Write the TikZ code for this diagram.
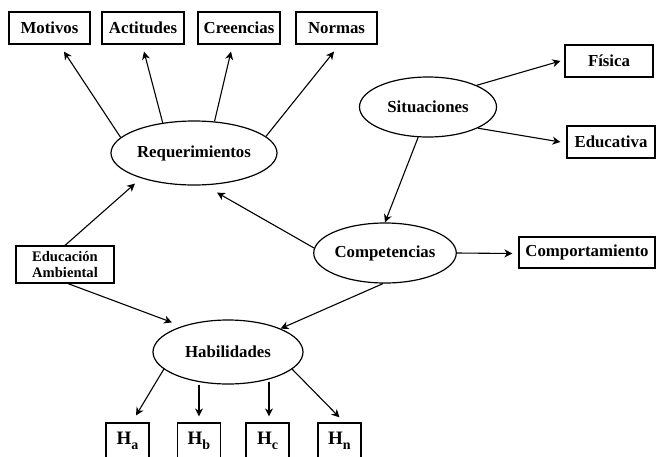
\documentclass[tikz,border=0pt]{standalone}
\usepackage{fontspec}
\setmainfont{Liberation Serif}
\usetikzlibrary{arrows.meta,shapes.geometric}
\newcommand{\hsub}[1]{\raisebox{-4.5pt}{\fontsize{14}{16}\selectfont #1}}
\begin{document}
\begin{tikzpicture}[x=1pt,y=-1pt,
  every node/.style={font=\fontsize{16.8}{19}\selectfont\bfseries, inner sep=0pt},
  box/.style={draw, line width=1.2pt, rectangle, minimum height=32pt},
  oval/.style={draw, line width=1.2pt, ellipse},
  arr/.style={line width=1.1pt, -{Stealth[length=8pt,width=8pt,inset=2.5pt]}},
  hbox/.style={box, minimum width=43pt, minimum height=36pt, font=\fontsize{19}{22}\selectfont\bfseries}]
\useasboundingbox (0,0) rectangle (657,456);

% top row of requirement boxes
\node[box, minimum width=81pt] (mot) at (49.5,28) {Motivos};
\node[box, minimum width=82pt] (act) at (143,28) {Actitudes};
\node[box, minimum width=82pt] (cre) at (239,28) {Creencias};
\node[box, minimum width=81pt] (nor) at (336.5,28) {Normas};

% ellipses
\node[oval, minimum width=166pt, minimum height=64pt] (req) at (194,153) {Requerimientos};
\node[oval, minimum width=137pt, minimum height=60pt] (sit) at (428,107) {Situaciones};
\node[oval, minimum width=136pt, minimum height=60pt] (com) at (385,253) {Competencias};
\node[oval, minimum width=150pt, minimum height=64pt] (hab) at (228,352) {Habilidades};

% right-hand boxes
\node[box, minimum width=88pt] (fis) at (609,61) {Física};
\node[box, minimum width=88pt] (edu) at (611,142) {Educativa};
\node[box, minimum width=136pt, minimum height=31pt] (cpt) at (587,252.5) {Comportamiento};

% left box
\node[box, minimum width=98pt, minimum height=37pt, align=center,
      font=\fontsize{14.6}{16.5}\selectfont\bfseries] (ea) at (65,264.5) {Educación\\Ambiental};

% bottom boxes
\node[hbox] (ha) at (127.5,441) {H\hsub{a}};
\node[hbox] (hb) at (199,441) {H\hsub{b}};
\node[hbox] (hc) at (267.5,441) {H\hsub{c}};
\node[hbox] (hn) at (339.5,441) {H\hsub{n}};

% connectors from Requerimientos
\draw[arr] (req.168) -- ([xshift=14.5pt,yshift=-7pt]mot.south);
\draw[arr] (req.136) -- ([xshift=1pt,yshift=-7pt]act.south);
\draw[arr] (req.57) -- ([xshift=-8pt,yshift=-7pt]cre.south);
\draw[arr] (req.13) -- ([xshift=-2.5pt,yshift=-7pt]nor.south);

% connectors from Situaciones
\draw[arr] (sit.24) -- ([xshift=-4pt]fis.west);
\draw[arr] (sit.-23) -- ([xshift=-6pt]edu.west);
\draw[arr] (sit.-108) -- (com.north);

% connectors from Competencias
\draw[arr] (com.east) -- ([xshift=-6pt,yshift=-1pt]cpt.west);
\draw[arr] (com.176) -- ([xshift=23pt,yshift=-7pt]req.south);
\draw[arr] ([xshift=-2pt]com.south) -- (hab.24);

% connectors from Educación Ambiental
\draw[arr] (ea.north) -- ([xshift=-59pt,yshift=2pt]req.south);
\draw[arr] ([xshift=3pt]ea.south) -- ([xshift=-56pt,yshift=-3pt]hab.north);

% connectors from Habilidades
\draw[arr] (hab.195) -- ([xshift=8.5pt,yshift=7pt]ha.north);
\draw[arr] ([xshift=-29pt]hab.south) -- ([yshift=6pt]hb.north);
\draw[arr] ([xshift=41pt,yshift=3pt]hab.south) -- ([xshift=1.5pt,yshift=6pt]hc.north);
\draw[arr] (hab.-15.7) -- ([yshift=5pt]hn.north);
\end{tikzpicture}
\end{document}
